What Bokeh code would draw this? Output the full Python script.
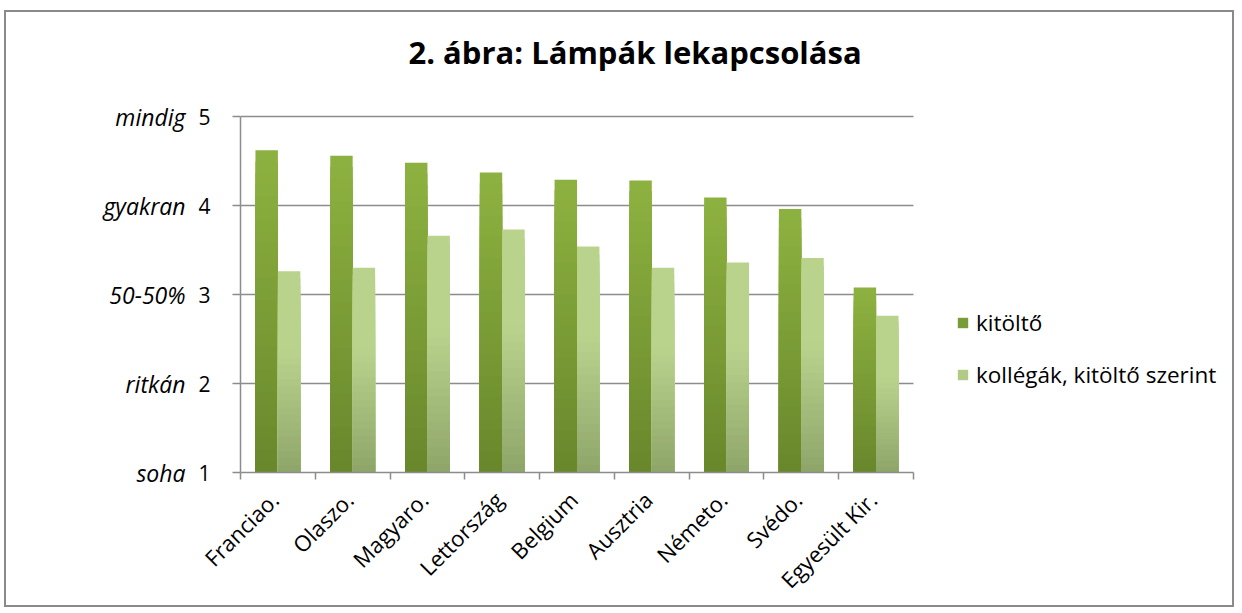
import math
import numpy as np
from bokeh.plotting import figure
from bokeh.models import (Range1d, LinearAxis, FixedTicker, Legend, LegendItem,
                          ColumnDataSource, Label)
from bokeh.embed import file_html
from bokeh.resources import INLINE

# ---- data ----
countries = ["Franciao.", "Olaszo.", "Magyaro.", "Lettország", "Belgium",
             "Ausztria", "Németo.", "Svédo.", "Egyesült Kir."]
kitolto = [4.62, 4.56, 4.48, 4.37, 4.29, 4.28, 4.09, 3.96, 3.08]
kollegak = [3.26, 3.30, 3.66, 3.73, 3.54, 3.30, 3.36, 3.41, 2.76]
y_ticks = [1, 2, 3, 4, 5]
y_words = ["soha", "ritkán", "50-50%", "gyakran", "mindig"]
series_names = ["kitöltő", "kollégák, kitöltő szerint"]
title_text = "2. ábra: Lámpák lekapcsolása"

FONT = "Open Sans"
GRID = "#8c8c8c"

n = len(countries)
xc = np.arange(1, n + 1)

# layout (px)
W, H = 1230, 597
BL, BB = 234, 137
AXIS_W, AXIS_H = 673, 356          # size of the value/category area
TOP_GAP = 104                      # canvas top -> value 5
cat_px = AXIS_W / n
unit_px = AXIS_H / (len(y_ticks) - 1)
x_end = 0.5 + (W - BL) / cat_px
y_end = y_ticks[-1] + TOP_GAP / unit_px

p = figure(width=W, height=H, output_backend="svg", toolbar_location=None,
           x_range=Range1d(0.5, x_end), y_range=Range1d(y_ticks[0], y_end),
           min_border_left=BL, min_border_right=0, min_border_top=0,
           min_border_bottom=BB)
p.styles = {"border": "2px solid #8a8a8a", "margin": "10px 0 0 4px"}
p.outline_line_color = None
p.background_fill_color = "white"
p.border_fill_color = "white"

# title (drawn as a label above the value area)
p.add_layout(Label(x=0.5 + 168 / cat_px, y=y_ticks[-1] + 65 / unit_px,
                   text=title_text, text_font=FONT, text_font_size="31px",
                   text_font_style="bold", text_color="black",
                   text_align="left", text_baseline="alphabetic"))


def hexc(rgb):
    return "#%02x%02x%02x" % tuple(int(round(c)) for c in rgb)


K = 28


def gradient_source(xs, vals, top, bottom, hold):
    x, t, c = [], [], []
    for k in range(K - 1, -1, -1):
        f = (k + 0.5) / K
        g = min(1.0, f / (1.0 - hold)) if hold > 0 else f
        col = hexc([b + (tp - b) * g for tp, b in zip(top, bottom)])
        for xi, v in zip(xs, vals):
            x.append(xi)
            t.append(1 + (v - 1) * (k + 1) / K)
            c.append(col)
    return ColumnDataSource(dict(x=x, top=t, color=c))


# horizontal grid lines (within the category area)
p.segment(x0=0.5, x1=n + 0.5, y0=y_ticks[1:], y1=y_ticks[1:],
          line_color=GRID, line_width=1.5)

s1 = gradient_source(xc - 0.15, kitolto, (0x8e, 0xb2, 0x40), (0x68, 0x87, 0x2c), 0.0)
s2 = gradient_source(xc + 0.15, kollegak, (0xb9, 0xd3, 0x8d), (0x8e, 0xa5, 0x69), 0.4)

r1 = p.vbar(x="x", top="top", bottom=1, width=0.3, fill_color="color",
            line_color=None, source=s1)
r2 = p.vbar(x="x", top="top", bottom=1, width=0.3, fill_color="color",
            line_color=None, source=s2)

# ---- x axis ----
LABEL_SHIFT = -0.05
xa = p.xaxis[0]
xa.bounds = (0.5, n + 0.5)
label_ticks = [float(i) + LABEL_SHIFT for i in xc]
xa.ticker = FixedTicker(ticks=label_ticks, minor_ticks=list(np.arange(0.5, n + 1, 1.0)))
xa.major_label_overrides = {t: c for t, c in zip(label_ticks, countries)}
xa.major_label_orientation = math.pi / 4
xa.major_tick_line_color = None
xa.minor_tick_line_color = GRID
xa.minor_tick_out = 7
xa.minor_tick_in = 0
xa.minor_tick_line_width = 1.5
xa.axis_line_color = GRID
xa.axis_line_width = 1.5
xa.major_label_text_font = FONT
xa.major_label_text_font_size = "22px"
xa.major_label_text_color = "black"
xa.major_label_standoff = 16

# ---- y axis ----
ya = p.yaxis[0]
ya.bounds = (y_ticks[0], y_ticks[-1])
ya.ticker = FixedTicker(ticks=y_ticks)
ya.minor_tick_line_color = None
ya.major_tick_out = 8
ya.major_tick_in = 0
ya.major_tick_line_color = GRID
ya.major_tick_line_width = 1.5
ya.axis_line_color = GRID
ya.axis_line_width = 1.5
ya.major_label_text_font = FONT
ya.major_label_text_font_size = "21px"
ya.major_label_text_color = "black"
ya.major_label_standoff = 22

ya2 = LinearAxis(ticker=FixedTicker(ticks=y_ticks), bounds=(y_ticks[0], y_ticks[-1]),
                 major_label_overrides={t: w for t, w in zip(y_ticks, y_words)})
ya2.axis_line_color = None
ya2.major_tick_line_color = None
ya2.minor_tick_line_color = None
ya2.major_tick_out = 0
ya2.major_tick_in = 0
ya2.major_label_text_font = FONT
ya2.major_label_text_font_style = "italic"
ya2.major_label_text_font_size = "23px"
ya2.major_label_text_color = "black"
ya2.major_label_standoff = 10
p.add_layout(ya2, "left")

p.xgrid.grid_line_color = None
p.ygrid.grid_line_color = None

# ---- legend ----
legend = Legend(items=[LegendItem(label=series_names[0], renderers=[r1], index=(K // 2) * n),
                       LegendItem(label=series_names[1], renderers=[r2], index=(K // 2) * n)],
                location=(AXIS_W + 43, 82), orientation="vertical")
legend.border_line_color = None
legend.background_fill_alpha = 0
legend.label_text_font = FONT
legend.label_text_font_size = "22.5px"
legend.label_text_color = "black"
legend.glyph_width = 13
legend.glyph_height = 13
legend.label_height = 22
legend.label_standoff = 7
legend.spacing = 21
legend.padding = 10
legend.margin = 0
p.add_layout(legend, "center")

open("out.html", "w").write(file_html(p, INLINE))
